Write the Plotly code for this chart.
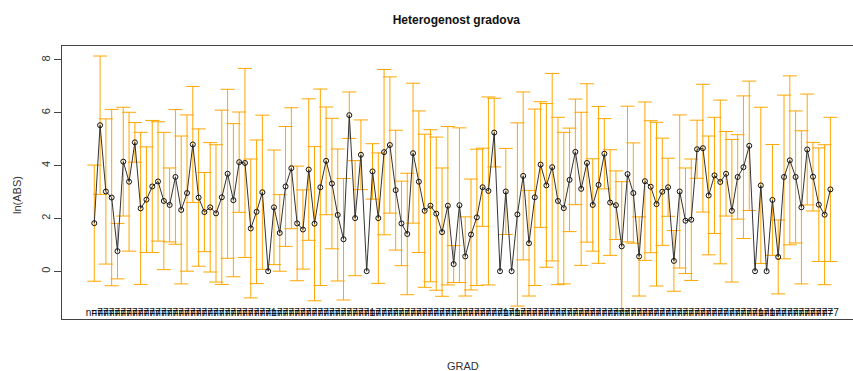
import plotly.graph_objects as go

# group means of ln(ABS) per GRAD
means = [
    1.82, 5.53, 3.02, 2.79, 0.76, 4.15, 3.39, 4.88, 2.38, 2.71,
    3.21, 3.40, 2.66, 2.51, 3.57, 2.32, 2.96, 4.80, 2.79, 2.24,
    2.42, 2.19, 2.80, 3.69, 2.69, 4.13, 4.10, 1.62, 2.25, 2.99,
    0.00, 2.42, 1.45, 3.21, 3.90, 1.81, 1.58, 3.85, 1.80, 3.18,
    4.18, 3.32, 2.13, 1.21, 5.91, 2.01, 4.41, 0.00, 3.78, 2.01,
    4.51, 4.78, 3.07, 1.81, 1.41, 4.47, 3.39, 2.29, 2.48, 2.18,
    1.48, 2.48, 0.27, 2.50, 0.56, 1.39, 2.04, 3.18, 3.04, 5.25,
    0.00, 3.02, 0.00, 2.15, 3.61, 1.06, 2.80, 4.04, 3.25, 3.94,
    2.66, 2.39, 3.46, 4.52, 3.12, 4.10, 2.51, 3.27, 4.45, 2.60,
    2.50, 0.94, 3.68, 2.96, 0.56, 3.41, 3.20, 2.54, 3.01, 3.18,
    0.39, 3.02, 1.91, 1.95, 4.62, 4.66, 2.87, 3.63, 3.38, 3.69,
    2.29, 3.57, 3.94, 4.75, 0.00, 3.25, 0.00, 2.70, 0.54, 3.57,
    4.20, 3.57, 2.42, 4.61, 3.58, 2.52, 2.14, 3.10,
]

# half-width of the confidence interval per group
half_width = [
    2.20, 2.62, 2.75, 3.34, 1.05, 2.06, 2.63, 0.75, 2.88, 2.00,
    2.50, 2.26, 2.60, 1.40, 2.55, 2.80, 2.96, 2.20, 2.60, 1.50,
    2.45, 2.60, 3.30, 3.20, 2.90, 1.90, 3.58, 2.63, 2.72, 2.92,
    0.00, 2.17, 1.45, 2.27, 2.29, 2.17, 1.50, 2.68, 2.92, 3.72,
    2.04, 2.47, 2.50, 2.30, 0.88, 2.18, 1.32, 0.00, 1.05, 2.47,
    3.13, 2.58, 2.27, 1.60, 2.30, 2.65, 2.68, 2.90, 2.88, 2.90,
    2.43, 3.00, 0.70, 2.93, 1.50, 2.10, 2.58, 1.48, 3.56, 1.30,
    0.00, 1.63, 0.00, 3.47, 3.18, 2.00, 3.34, 2.38, 3.10, 3.55,
    3.17, 2.87, 1.96, 2.00, 2.90, 3.00, 1.75, 2.97, 1.33, 2.00,
    1.30, 2.45, 2.57, 1.90, 1.50, 3.00, 2.50, 3.10, 2.03, 1.10,
    1.15, 2.90, 2.00, 2.30, 1.10, 2.42, 2.25, 2.20, 3.10, 1.60,
    2.70, 1.60, 2.70, 2.45, 0.00, 2.96, 0.00, 2.10, 1.40, 3.10,
    3.20, 2.50, 2.90, 2.10, 1.30, 2.15, 2.65, 2.73,
]

# observations per group (n= labels)
n_obs = [1 if h == 0 else 7 for h in half_width]

groups = list(range(1, len(means) + 1))
n_labels = ["n=%d" % n for n in n_obs]

y_ticks = [0, 2, 4, 6, 8]
y_range = [-1.81, 8.53]
x_range = [-4.57, 131.9]
n_label_y = -1.62

bar_x = [g for g, h in zip(groups, half_width) if h > 0]
bar_y = [m for m, h in zip(means, half_width) if h > 0]
bar_h = [h for h in half_width if h > 0]

fig = go.Figure()

fig.add_trace(go.Scatter(
    x=bar_x, y=bar_y, mode="markers",
    marker=dict(size=1, color="rgba(0,0,0,0)"),
    error_y=dict(type="data", array=bar_h, symmetric=True,
                 color="#FFA500", thickness=1, width=7),
    hoverinfo="skip", showlegend=False,
))

fig.add_trace(go.Scatter(
    x=groups, y=means, mode="lines+markers",
    line=dict(color="#333333", width=1),
    marker=dict(symbol="circle-open", size=5, color="#111111",
                line=dict(width=1)),
    showlegend=False,
))

fig.add_trace(go.Scatter(
    x=groups, y=[n_label_y] * len(groups), mode="text",
    text=n_labels, textposition="middle center",
    textfont=dict(family="Liberation Sans, Arial", size=10, color="#111111"),
    hoverinfo="skip", showlegend=False,
))

plot_w = 853 - 62
plot_h = 371 - 46 - 52

fig.update_layout(
    width=853, height=371,
    margin=dict(l=62, r=0, t=46, b=52),
    paper_bgcolor="white", plot_bgcolor="white",
    font=dict(family="Liberation Sans, Arial", color="#222222"),
    title=dict(text="<b>Heterogenost gradova</b>", x=0.535, xref="container",
               y=1 - 20 / 371, yref="container", xanchor="center", yanchor="middle",
               font=dict(size=12, color="#111111")),
    xaxis=dict(range=x_range, showgrid=False, zeroline=False,
               showticklabels=False, ticks="", showline=True, mirror=True,
               linecolor="#444444", linewidth=1),
    yaxis=dict(range=y_range, tickvals=y_ticks, showgrid=False, zeroline=False,
               ticks="outside", ticklen=7, tickcolor="#444444",
               tickangle=-90, tickfont=dict(size=11, color="#333333"),
               showline=True, linecolor="#444444", linewidth=1),
    annotations=[
        dict(text="GRAD", x=(463 - 62) / plot_w, y=-(366 - 319) / plot_h,
             xref="paper", yref="paper", yanchor="middle", showarrow=False,
             font=dict(size=11, color="#333333")),
        dict(text="ln(ABS)", x=-(62 - 17) / plot_w, y=(319 - 195) / plot_h,
             xref="paper", yref="paper", xanchor="center", yanchor="middle",
             showarrow=False, textangle=-90,
             font=dict(size=11, color="#333333")),
    ],
)

fig.write_html("out.html",
               config={"displayModeBar": False},
               post_script="document.body.style.margin='0';document.body.style.padding='0';")
